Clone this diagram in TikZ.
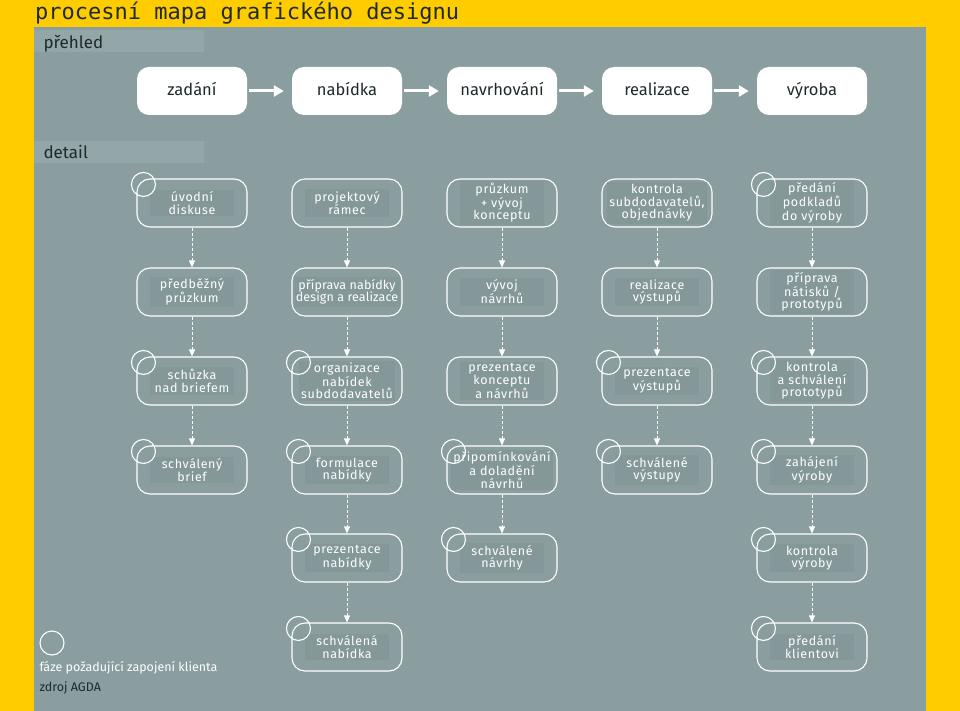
\documentclass[tikz,border=0pt]{standalone}
\usepackage{fontspec}
\setmainfont{Fira Sans}
\newfontfamily\boxfont[LetterSpace=5]{Fira Sans}
\newfontfamily\tightfont[LetterSpace=1]{Fira Sans}
\newfontfamily\titlefont{DejaVu Sans Mono}
\usetikzlibrary{arrows.meta}
\definecolor{ylw}{HTML}{FFCC00}
\definecolor{panel}{HTML}{8A9EA0}
\definecolor{inner}{HTML}{849899}
\definecolor{band}{HTML}{93A6A8}
\definecolor{ink}{HTML}{1E2A2C}
\tikzset{
 ov/.style={draw=none,fill=white,rounded corners=12pt,minimum width=110pt,minimum height=48pt,font=\fontsize{16.5}{18}\selectfont,text=ink,text height=12pt,text depth=3pt},
 dbox/.style={draw=white,line width=1.1pt,rounded corners=13pt,minimum width=110pt,minimum height=48pt},
 dtxt/.style={fill=inner,text=white,align=center,font=\boxfont\fontsize{12.5}{12.5}\selectfont,inner sep=2pt,minimum width=84pt},
 bigarr/.style={white,line width=3pt,-{Triangle[length=10pt,width=11pt]},shorten <=2pt,shorten >=8pt},
 darr/.style={white,densely dashed,line width=0.8pt,-{Triangle[length=7pt,width=6pt]}},
 cl/.style={draw=white,line width=1.1pt,circle,minimum size=24pt,inner sep=0pt},
}
\begin{document}
\begin{tikzpicture}[x=1pt,y=-1pt]
\fill[ylw] (0,0) rectangle (960,711);
\fill[panel] (34,27) rectangle (926,711);
\node[anchor=west,font=\titlefont\fontsize{22}{24}\selectfont,text=ink,inner sep=0pt] (title) at (35,13) {procesní mapa grafického designu};
\fill[band] (34,30) rectangle (204,52);
\fill[band] (34,141) rectangle (204,163);
\node[anchor=west,font=\fontsize{17}{18}\selectfont,text=ink] (prehled) at (40,44) {přehled};
\node[anchor=west,font=\fontsize{17}{18}\selectfont,text=ink] (detail) at (40,152) {detail};
% overview
\foreach \n/\x/\t in {o1/192/zadání,o2/347/nabídka,o3/502/navrhování,o4/657/realizace,o5/812/výroba}
  \node[ov] (\n) at (\x,91) {\t};
\foreach \a/\b in {o1/o2,o2/o3,o3/o4,o4/o5}
  \draw[bigarr] (\a.east) -- (\b.west);
% detail boxes
\newcommand{\db}[5]{% name x y text circle
  \node[dbox] (#1) at (#2,#3) {};
  \node[dtxt] (#1t) at (#2,#3) {#4};
  \ifnum#5=1 \node[cl] (#1c) at ([xshift=7pt,yshift=-6pt]#1.north west) {};\fi}
\db{a1}{192}{203}{úvodní\\diskuse}{1}
\db{b1}{347}{203}{projektový\\rámec}{0}
\db{c1}{502}{203}{průzkum\\+ vývoj\\konceptu}{0}
\db{d1}{657}{203}{kontrola\\subdodavatelů,\\objednávky}{0}
\db{e1}{812}{203}{předání\\podkladů\\do výroby}{1}
\db{a2}{192}{292}{předběžný\\průzkum}{0}
\db{b2}{347}{292}{\tightfont příprava nabídky\\\tightfont design a realizace}{0}
\db{c2}{502}{292}{vývoj\\návrhů}{0}
\db{d2}{657}{292}{realizace\\výstupů}{0}
\db{e2}{812}{292}{příprava\\nátisků /\\prototypů}{0}
\db{a3}{192}{381}{schůzka\\nad briefem}{1}
\db{b3}{347}{381}{organizace\\nabídek\\subdodavatelů}{1}
\db{c3}{502}{381}{prezentace\\konceptu\\a návrhů}{0}
\db{d3}{657}{381}{prezentace\\výstupů}{1}
\db{e3}{812}{381}{kontrola\\a schválení\\prototypů}{1}
\db{a4}{192}{470}{schválený\\brief}{1}
\db{b4}{347}{470}{formulace\\nabídky}{1}
\db{c4}{502}{470}{připomínkování\\a doladění\\návrhů}{1}
\db{d4}{657}{470}{schválené\\výstupy}{1}
\db{e4}{812}{470}{zahájení\\výroby}{1}
\db{b5}{347}{558}{prezentace\\nabídky}{1}
\db{c5}{502}{558}{schválené\\návrhy}{1}
\db{e5}{812}{558}{kontrola\\výroby}{1}
\db{b6}{347}{647}{schválená\\nabídka}{1}
\db{e6}{812}{647}{předání\\klientovi}{1}
\foreach \a/\b in {a1/a2,a2/a3,a3/a4,b1/b2,b2/b3,b3/b4,b4/b5,b5/b6,c1/c2,c2/c3,c3/c4,c4/c5,d1/d2,d2/d3,d3/d4,e1/e2,e2/e3,e3/e4,e4/e5,e5/e6}
  \draw[darr] (\a.south) -- (\b.north);
% legend
\node[cl] (leg) at (52,643) {};
\node[anchor=west,text=white,font=\fontsize{12.5}{14}\selectfont] (legt) at (36,668) {fáze požadující zapojení klienta};
\node[anchor=west,text=ink,font=\fontsize{12.5}{14}\selectfont] (src) at (36,688) {zdroj AGDA};
\end{tikzpicture}
\end{document}
